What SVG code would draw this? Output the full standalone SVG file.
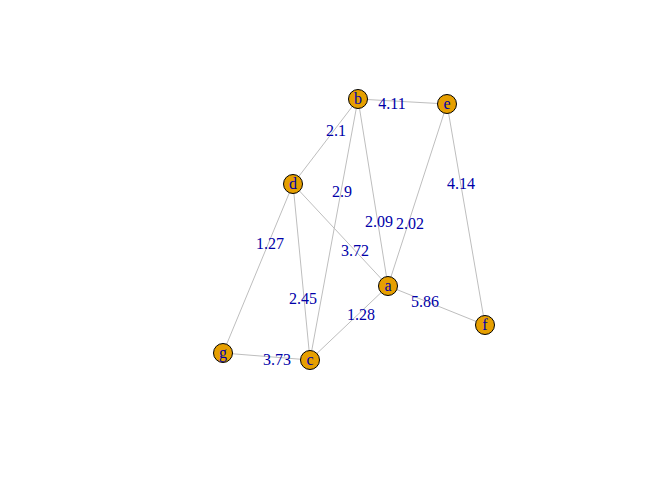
<svg xmlns="http://www.w3.org/2000/svg" width="672" height="480" viewBox="0 0 672 480">
<style>
.e{stroke:#bebebe;stroke-width:1;fill:none}
.n circle{fill:#e69f00;stroke:#000;stroke-width:1}
text{font-family:"Liberation Serif","Times New Roman",serif;font-size:16px;fill:#0000a8;text-anchor:middle}
</style>
<rect width="672" height="480" fill="#fff"/>
<g id="connectors">
<line class="e" x1="358" y1="99" x2="447" y2="104"/>
<line class="e" x1="358" y1="99" x2="293" y2="184"/>
<line class="e" x1="358" y1="99" x2="310" y2="360"/>
<line class="e" x1="358" y1="99" x2="388" y2="286"/>
<line class="e" x1="447" y1="104" x2="388" y2="286"/>
<line class="e" x1="447" y1="104" x2="485" y2="325"/>
<line class="e" x1="293" y1="184" x2="388" y2="286"/>
<line class="e" x1="293" y1="184" x2="223" y2="353"/>
<line class="e" x1="293" y1="184" x2="310" y2="360"/>
<line class="e" x1="388" y1="286" x2="310" y2="360"/>
<line class="e" x1="388" y1="286" x2="485" y2="325"/>
<line class="e" x1="223" y1="353" x2="310" y2="360"/>
<text x="392" y="109">4.11</text>
<text x="336" y="136">2.1</text>
<text x="342" y="197">2.9</text>
<text x="379" y="227">2.09</text>
<text x="410" y="229">2.02</text>
<text x="461" y="189">4.14</text>
<text x="355" y="256">3.72</text>
<text x="270" y="249">1.27</text>
<text x="303" y="304">2.45</text>
<text x="361" y="320">1.28</text>
<text x="425" y="307">5.86</text>
<text x="277" y="365">3.73</text>
</g>
<g id="node-b" class="n"><circle cx="358" cy="99" r="9.5"/><text x="358" y="104">b</text></g>
<g id="node-e" class="n"><circle cx="447" cy="104" r="9.5"/><text x="447" y="109">e</text></g>
<g id="node-d" class="n"><circle cx="293" cy="184" r="9.5"/><text x="293" y="189">d</text></g>
<g id="node-a" class="n"><circle cx="388" cy="286" r="9.5"/><text x="388" y="291">a</text></g>
<g id="node-f" class="n"><circle cx="485" cy="325" r="9.5"/><text x="485" y="330">f</text></g>
<g id="node-g" class="n"><circle cx="223" cy="353" r="9.5"/><text x="223" y="358">g</text></g>
<g id="node-c" class="n"><circle cx="310" cy="360" r="9.5"/><text x="310" y="365">c</text></g>
</svg>
